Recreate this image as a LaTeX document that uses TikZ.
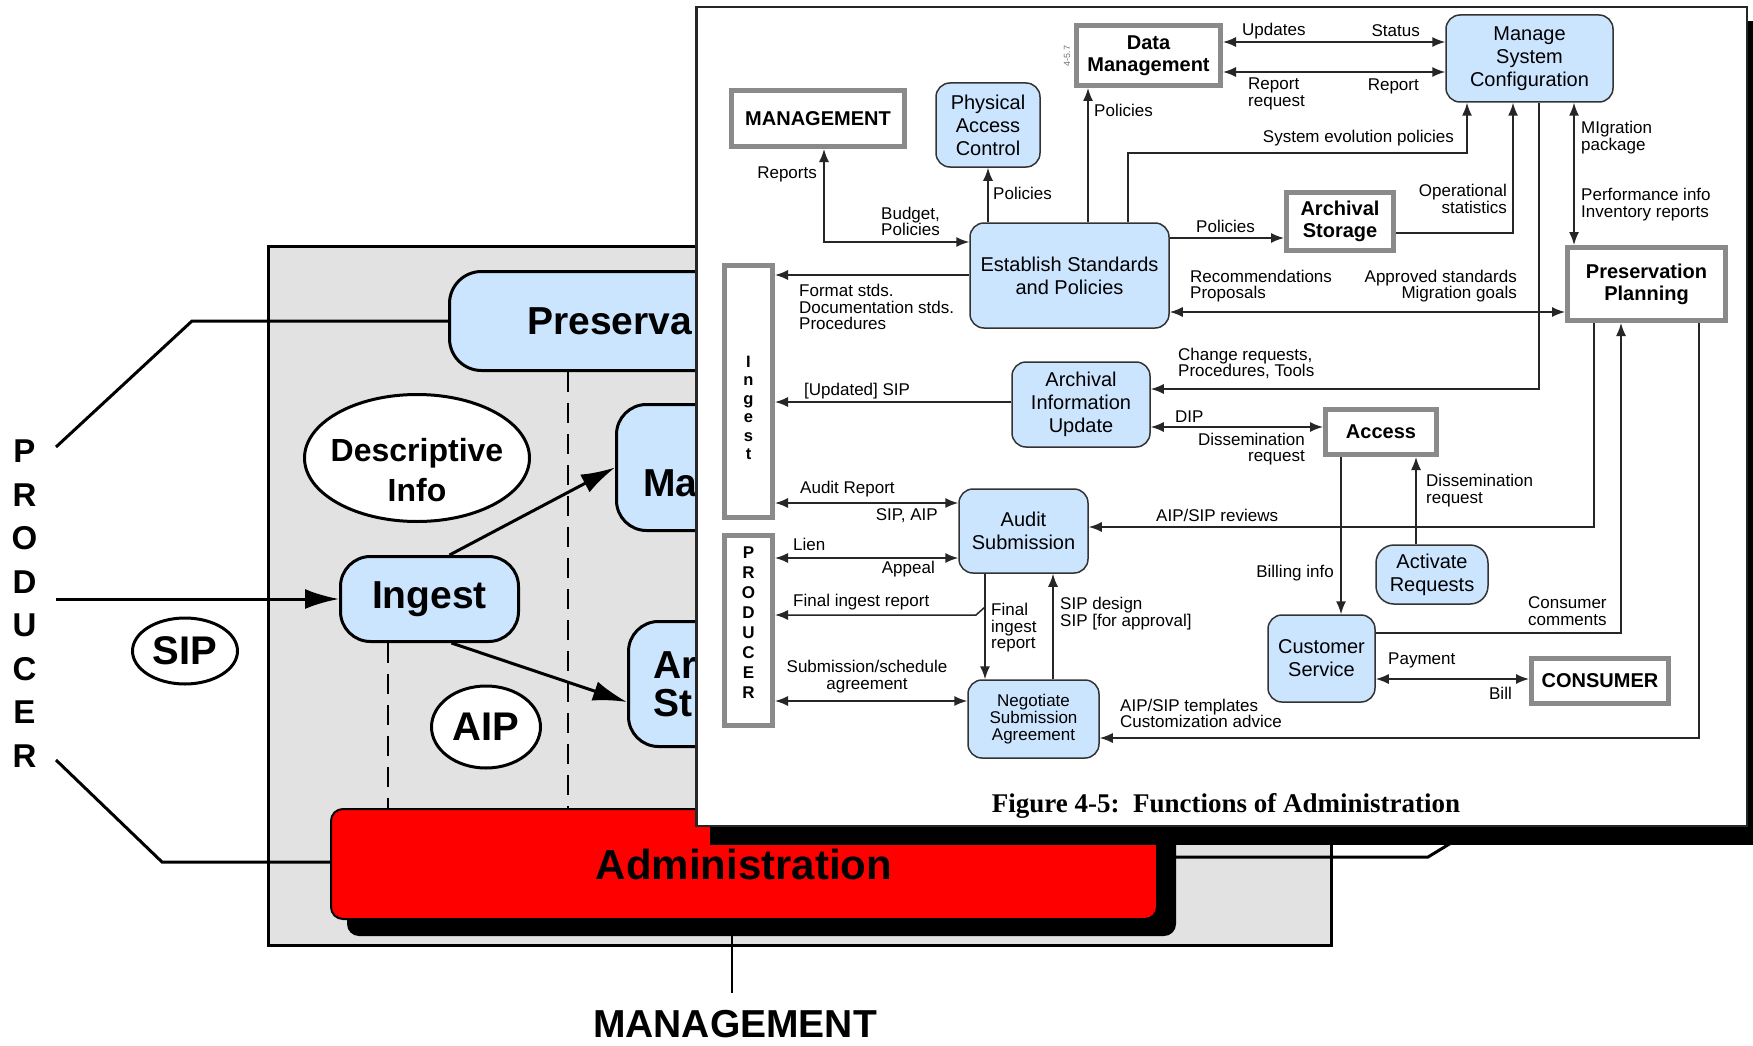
\documentclass[tikz,border=0pt]{standalone}
\usepackage{fontspec}
\setmainfont{Liberation Sans}
\newfontfamily\capfont{Liberation Serif}
\usetikzlibrary{arrows.meta,shapes.geometric,calc}
\definecolor{boxblue}{RGB}{204,229,255}
\definecolor{panelgray}{RGB}{226,226,226}
\definecolor{framegray}{RGB}{138,138,138}
\begin{document}
\begin{tikzpicture}[x=1pt,y=-1pt,
  every node/.style={inner sep=0pt},
  % outer scene
  bigbox/.style={draw=black, line width=3pt, fill=boxblue, rounded corners=32pt},
  bigtxt/.style={font=\fontsize{39}{38}\selectfont\bfseries, align=left, anchor=west},
  oval/.style={ellipse, draw=black, line width=3pt, fill=white},
  bigline/.style={line width=3pt},
  bigarr/.style={line width=3pt, -{Latex[length=34pt,width=20pt]}},
  dashline/.style={line width=2.5pt, dash pattern=on 20pt off 11pt},
  % functional diagram
  fbox/.style={draw=framegray, line width=5pt, fill=white,
    font=\fontsize{20}{22}\selectfont\bfseries, align=center},
  bbox/.style={draw=black!80, line width=1.5pt, fill=boxblue, rounded corners=14pt,
    font=\fontsize{20}{23}\selectfont, align=center},
  lbl/.style={font=\fontsize{17}{16.5}\selectfont, align=left},
  lbll/.style={lbl, anchor=west},
  lblr/.style={lbl, align=right, anchor=east},
  conn/.style={line width=1.5pt, draw=black!85},
  arr/.style={conn, -{Latex[length=13pt,width=10pt]}},
  darr/.style={conn, {Latex[length=13pt,width=10pt]}-{Latex[length=13pt,width=10pt]}},
]
\path[use as bounding box, fill=white] (0,0) rectangle (1753,1046);

% ---------------- background functional model ----------------
\node[draw=black, line width=3pt, fill=panelgray, minimum width=1063pt, minimum height=699pt] (panel) at (800,596) {};

\node[bigbox, minimum width=535pt, minimum height=99pt] (PRE) at (717,321) {};
\node[bigtxt] (PREt) at ($(PRE.west)+(79,0)$) {Preserva};
\node[bigbox, minimum width=273pt, minimum height=126pt, rounded corners=30pt] (MAB) at (753,467.5) {};
\node[bigtxt] (MABt) at ($(MAB.west)+(28,16)$) {Ma};
\node[bigbox, minimum width=191pt, minimum height=125pt, rounded corners=30pt] (ARB) at (724,684) {};
\node[bigtxt] (ARBt) at ($(ARB.west)+(26,0)$) {Ar\\St};
\node[bigbox, minimum width=178pt, minimum height=85pt, rounded corners=30pt,
      font=\fontsize{39}{40}\selectfont\bfseries] (INGL) at (429.5,599) {Ingest};

\node[oval, minimum width=225pt, minimum height=127pt] (DI) at (417,458) {};
\node[font=\fontsize{32}{40}\selectfont\bfseries, align=center] (DIt) at (417,470) {Descriptive\\Info};
\node[oval, minimum width=105pt, minimum height=66pt, font=\fontsize{40}{40}\selectfont\bfseries] (SIPo) at (185,651) {SIP};
\node[oval, minimum width=109pt, minimum height=82pt, font=\fontsize{40}{40}\selectfont\bfseries] (AIPo) at (486,727) {AIP};

\node[font=\fontsize{33}{43.5}\selectfont\bfseries, align=center] (prodL) at (24.5,603.5) {P\\R\\O\\D\\U\\C\\E\\R};

\coordinate (xD1) at (568,0);
\coordinate (xD2) at (388,0);
\coordinate (pA) at (56,447);
\coordinate (pB) at (192,321);
\coordinate (pC) at (56,599);
\coordinate (pD) at (56,760);
\coordinate (pE) at (162,862);
\coordinate (pG) at (1428,857);
\coordinate (pH) at (1456,840);
\coordinate (xMg) at (732,0);

\node[draw=none, minimum width=828pt, minimum height=112pt] (ADMpos) at (744,864) {};

\draw[dashline] (PRE.south -| xD1) -- (ADMpos.north -| xD1);
\draw[dashline] (INGL.south -| xD2) -- (ADMpos.north -| xD2);

\draw[bigline] (pA) -- (pB) -- (PRE.west |- pB);
\draw[bigarr] (pC) -- (INGL.west);
\draw[bigline] (pD) -- (pE) -- (ADMpos.west |- pE);
\draw[bigline] (ADMpos.east |- pG) -- (pG) -- (pH);

\draw[bigarr] ($(INGL.north)+(20,0)$) -- (MAB.west);
\draw[bigarr] ($(INGL.south)+(22,0)$) -- ($(ARB.west)+(0,18)$);

\node[font=\fontsize{39}{41}\selectfont\bfseries] (MGL) at (735,1024) {MANAGEMENT};
\draw[line width=2pt, shorten >=17pt] (ADMpos.south -| xMg) -- (MGL.north -| xMg);

\node[fill=black, rounded corners=12pt, minimum width=829pt, minimum height=112pt] (ADMsh) at (761.5,880) {};
\node[draw=black, line width=2pt, fill=red, rounded corners=12pt, minimum width=826pt, minimum height=110pt,
      font=\fontsize{42}{44}\selectfont\bfseries] (ADM) at (744,864) {Administration};

% ---------------- functions of administration ----------------
\node[fill=black, minimum width=1065pt, minimum height=824pt] (insetsh) at (1242.5,433) {};
\node[draw=black!85, line width=2.5pt, fill=white, minimum width=1050.5pt, minimum height=818.5pt] (inset) at (1221.5,416.5) {};

\node[fbox, minimum width=173pt, minimum height=56pt] (MG) at (818,118.5) {MANAGEMENT};
\node[bbox, minimum width=104pt, minimum height=84pt] (PAC) at (988,125) {Physical\\Access\\Control};
\node[fbox, minimum width=144pt, minimum height=60pt] (DM) at (1148.5,55.5) {Data\\Management};
\node[bbox, minimum width=167pt, minimum height=87pt] (MSC) at (1529.5,58.5) {Manage\\System\\Configuration};
\node[fbox, minimum width=107pt, minimum height=58pt] (AS) at (1340,221.5) {Archival\\Storage};
\node[bbox, minimum width=199pt, minimum height=105pt] (ES) at (1069.5,275.5) {Establish Standards\\and Policies};
\node[fbox, minimum width=158pt, minimum height=73pt] (PP) at (1646.5,284) {Preservation\\Planning};
\node[fbox, minimum width=48pt, minimum height=252pt] (ING) at (748.5,391.5) {};
\node[font=\fontsize{16.5}{18.5}\selectfont\bfseries, align=center] (INGt) at (748.5,408) {I\\n\\g\\e\\s\\t};
\node[fbox, minimum width=48pt, minimum height=190pt] (PRO) at (748.5,630.5) {};
\node[font=\fontsize{17}{20}\selectfont\bfseries, align=center] (PROt) at (748.5,623) {P\\R\\O\\D\\U\\C\\E\\R};
\node[bbox, minimum width=138pt, minimum height=85pt] (AIU) at (1081,404.5) {Archival\\Information\\Update};
\node[fbox, minimum width=111pt, minimum height=45pt] (ACC) at (1381,432) {Access};
\node[bbox, minimum width=129pt, minimum height=84pt] (AUD) at (1023.5,531) {Audit\\Submission};
\node[bbox, minimum width=112pt, minimum height=59pt, rounded corners=18pt] (AR) at (1432,574.5) {Activate\\Requests};
\node[bbox, minimum width=107pt, minimum height=87pt] (CS) at (1321.5,658.5) {Customer\\Service};
\node[fbox, minimum width=137pt, minimum height=45pt] (CON) at (1600,681) {CONSUMER};
\node[bbox, minimum width=131pt, minimum height=78pt, font=\fontsize{17}{17}\selectfont] (NSA) at (1033.5,719) {Negotiate\\Submission\\Agreement};

\node[rotate=90, font=\fontsize{9}{9}\selectfont, text=black!55] (pgno) at (1067,56) {4-5.7};

% routing positions
\coordinate (xRep) at (824,0);   \coordinate (yBud) at (0,242);
\coordinate (xDM) at (1088,0);
\coordinate (xSE) at (1128,0);   \coordinate (ySE) at (0,153);  \coordinate (xSE2) at (1467,0);
\coordinate (yUp) at (0,42);     \coordinate (yLo) at (0,72);
\coordinate (yPol) at (0,238);
\coordinate (yOps) at (0,233);   \coordinate (xOps) at (1513,0);
\coordinate (xMig) at (1574,0);
\coordinate (yApp) at (0,312);
\coordinate (xChg) at (1539,0);  \coordinate (yChg) at (0,389);
\coordinate (yFmt) at (0,275);
\coordinate (yUpd) at (0,402);
\coordinate (yAud) at (0,503);
\coordinate (yLien) at (0,558);
\coordinate (xFin) at (985,0);   \coordinate (yFinA) at (0,607);  \coordinate (finBend) at (976,615);
\coordinate (xSipD) at (1053,0);
\coordinate (ySub) at (0,701);
\coordinate (xTpl) at (1699,0);  \coordinate (yTpl) at (0,738);
\coordinate (xRev) at (1594,0);  \coordinate (yRev) at (0,527);
\coordinate (yCom) at (0,633);   \coordinate (xCom) at (1621,0);
\coordinate (yDip) at (0,427);
\coordinate (xBill) at (1341,0);
\coordinate (xAct) at (1416,0);
\coordinate (yPay) at (0,679);

\draw[darr] (MG.south -| xRep) |- (ES.west |- yBud);
\draw[arr] (ES.north -| PAC.south) -- (PAC.south);
\draw[arr] (ES.north -| xDM) -- (DM.south -| xDM);
\draw[arr] (ES.north -| xSE) |- (ySE -| xSE2) -- (MSC.south -| xSE2);
\draw[darr] (DM.east |- yUp) -- (MSC.west |- yUp);
\draw[darr] (DM.east |- yLo) -- (MSC.west |- yLo);
\draw[arr] (ES.east |- yPol) -- (AS.west |- yPol);
\draw[arr] (AS.east |- yOps) -| (MSC.south -| xOps);
\draw[darr] (MSC.south -| xMig) -- (PP.north -| xMig);
\draw[darr] (ES.east |- yApp) -- (PP.west |- yApp);
\draw[arr] (MSC.south -| xChg) |- (AIU.east |- yChg);
\draw[arr] (ES.west |- yFmt) -- (ING.east |- yFmt);
\draw[arr] (AIU.west |- yUpd) -- (ING.east |- yUpd);
\draw[darr] (ING.east |- yAud) -- (AUD.west |- yAud);
\draw[darr] (PRO.east |- yLien) -- (AUD.west |- yLien);
\draw[arr] (AUD.south -| xFin) -- (NSA.north -| xFin);
\draw[arr] (xFin |- yFinA) -- (finBend) -- (PRO.east |- finBend);
\draw[arr] (NSA.north -| xSipD) -- (AUD.south -| xSipD);
\draw[darr] (PRO.east |- ySub) -- (NSA.west |- ySub);
\draw[arr] (PP.south -| xTpl) |- (NSA.east |- yTpl);
\draw[arr] (PP.south -| xRev) |- (AUD.east |- yRev);
\draw[arr] (CS.east |- yCom) -| (PP.south -| xCom);
\draw[darr] (AIU.east |- yDip) -- (ACC.west |- yDip);
\draw[arr] (ACC.south -| xBill) -- (CS.north -| xBill);
\draw[arr] (AR.north -| xAct) -- (ACC.south -| xAct);
\draw[darr] (CS.east |- yPay) -- (CON.west |- yPay);

% flow labels
\node[lblr] (lRep) at (817,174) {Reports};
\node[lbll] (lBud) at (881,221.5) {Budget,\\Policies};
\node[lbll] (lPolPAC) at (993,193) {Policies};
\node[lbll] (lPolDM) at (1094,110) {Policies};
\node[lbll] (lUpd) at (1242,31) {Updates};
\node[lblr] (lSta) at (1420,31) {Status};
\node[lbll] (lRq) at (1248,94) {Report\\request};
\node[lblr] (lRp) at (1419,86) {Report};
\node[lblr] (lSEP) at (1454,138) {System evolution policies};
\node[lbll] (lPolAS) at (1196,226) {Policies};
\node[lblr] (lOps) at (1507,199) {Operational\\statistics};
\node[lbll] (lMig) at (1581,137.5) {MIgration\\package};
\node[lbll] (lPerf) at (1581,204.5) {Performance info\\Inventory reports};
\node[lbll] (lRec) at (1190,286) {Recommendations\\Proposals};
\node[lblr] (lApp) at (1517,286) {Approved standards\\Migration goals};
\node[lbll] (lFmt) at (799,307) {Format stds.\\Documentation stds.\\Procedures};
\node[lbll] (lUSIP) at (804,391) {[Updated] SIP};
\node[lbll] (lChg) at (1178,363.5) {Change requests,\\Procedures, Tools};
\node[lbll] (lDIP) at (1175,417) {DIP};
\node[lblr] (lDis1) at (1305,449) {Dissemination\\request};
\node[lbll] (lDis2) at (1426,490.5) {Dissemination\\request};
\node[lbll] (lAR) at (800,489) {Audit Report};
\node[lblr] (lSA) at (938,516) {SIP, AIP};
\node[lbll] (lRev) at (1156,515) {AIP/SIP reviews};
\node[lbll] (lLien) at (793,544) {Lien};
\node[lblr] (lApl) at (935,569) {Appeal};
\node[lbll] (lFIR) at (793,602) {Final ingest report};
\node[lbll] (lFIR2) at (991,628) {Final\\ingest\\report};
\node[lbll] (lSipD) at (1060,613.5) {SIP design\\SIP [for approval]};
\node[lblr] (lBil) at (1334,573) {Billing info};
\node[lbll] (lCom) at (1528,611) {Consumer\\comments};
\node[lbl, align=center] (lSub) at (867,676.5) {Submission/schedule\\agreement};
\node[lbll] (lPay) at (1388,660) {Payment};
\node[lblr] (lBill) at (1512,693) {Bill};
\node[lbll] (lTpl) at (1120,713.5) {AIP/SIP templates\\Customization advice};

\node[font=\capfont\bfseries\fontsize{27}{30}\selectfont] (cap) at (1226,806) {Figure 4-5:\ \ Functions of Administration};
\end{tikzpicture}
\end{document}
